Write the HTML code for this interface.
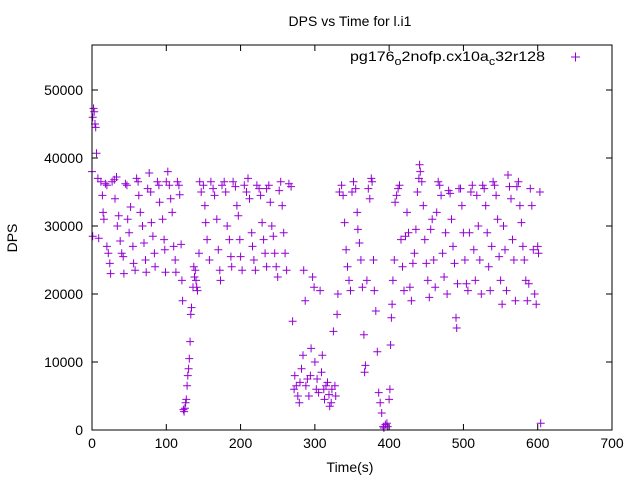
<!DOCTYPE html>
<html><head><meta charset="utf-8"><style>
html,body{margin:0;padding:0;background:#fff}
svg{display:block;font-family:"Liberation Sans",sans-serif}
</style></head><body>
<svg id="chart" width="640" height="480" viewBox="0 0 640 480" xmlns="http://www.w3.org/2000/svg">
<rect width="640" height="480" fill="#fff"/>
<text x="350" y="26" text-anchor="middle" font-size="14">DPS vs Time for l.i1</text>
<text transform="translate(17,238) rotate(-90)" text-anchor="middle" font-size="14">DPS</text>
<text x="350" y="472" text-anchor="middle" font-size="14">Time(s)</text>
<g id="axes"></g>
<g id="marks"></g>
<g>
<text x="350" y="61" font-size="14" textLength="195" lengthAdjust="spacingAndGlyphs">pg176<tspan font-size="11" dy="4">o</tspan><tspan dy="-4">2nofp.cx10a</tspan><tspan font-size="11" dy="4">c</tspan><tspan dy="-4">32r128</tspan></text>
<path d="M571,57h9M575.5,52.5v9" stroke="#9400d3" stroke-width="1"/>
</g>
<rect x="92" y="45" width="520" height="385" fill="none" stroke="#000" stroke-width="1"/>
</svg>
<script>
const xTicks=[0,100,200,300,400,500,600,700];
const yTicks=[0,10000,20000,30000,40000,50000];
const times=[0,1,2,3,4,5,6,1,9,8,12,14,15,16,18,20,20,22,24,25,27,30,31,33,34,36,38,40,42,43,45,47,48,50,52,55,56,58,60,62,63,65,68,70,72,73,75,77,79,80,82,84,85,88,90,91,95,97,98,99,100,102,104,106,108,110,112,113,115,117,118,120,121,122,
123,124,125,126,127,128,129,130,131,132,133,134,136,137,138,139,140,141,142,144,
145,147,150,152,153,155,158,160,163,165,168,170,172,173,175,178,180,182,185,187,188,190,193,195,197,199,200,202,205,208,210,212,215,216,218,220,222,225,227,229,231,233,235,
235,238,240,242,244,246,248,250,252,254,256,258,260,262,265,268,
270,272,273,275,277,279,280,282,284,285,287,288,290,292,294,295,297,299,300,302,303,305,307,309,310,312,313,315,317,319,320,322,323,325,327,328,330,331,
333,336,338,340,342,344,346,348,350,352,355,357,358,360,362,364,366,367,368,370,372,374,376,377,379,380,382,384,386,388,390,392,393,395,397,398,400,401,402,403,404,405,407,408,410,412,414,416,418,420,422,424,426,428,430,432,434,436,438,440,441,442,444,446,448,450,452,454,456,458,460,462,464,466,468,470,472,474,476,478,480,482,484,486,488,490,491,492,494,496,498,500,502,504,506,508,510,512,514,516,518,520,522,524,526,528,530,532,534,536,538,540,542,544,546,548,550,552,554,556,558,560,562,564,566,568,570,572,574,576,578,580,582,584,586,588,590,592,594,596,598,600,601,603,604];
const dps=[38000,46000,47300,46800,45000,44500,40700,28500,28200,37000,36500,34500,32000,31000,36200,36000,27000,26000,24500,23000,36500,36800,34000,37200,30000,31500,27800,26000,25500,23000,36200,36000,31000,29000,32800,27000,24500,23500,37000,36500,34500,32000,30000,27500,25000,23200,35500,37800,35000,30500,28500,26000,24000,36500,36000,33500,31000,28000,26500,23200,36500,38000,36000,34000,32000,27000,25000,23200,36500,36000,34600,27300,22000,19000,
3000,2700,3200,4000,4500,6500,8000,9000,10500,13000,17000,18000,21000,24000,22500,23500,22000,21000,20500,26000,
36500,35000,36000,33000,30500,28000,25000,36500,35500,34500,31000,26500,23500,22000,36000,36500,35000,30000,28000,25500,24000,36500,35800,33000,31500,28000,25500,23500,36000,35000,37000,34000,29000,27000,25000,23500,36000,35500,34500,30500,28000,26000,24000,
35500,36000,33500,30000,28500,26000,24000,22500,35200,36500,33000,29000,26000,23500,36200,35800,
16000,6000,8000,6500,5000,4000,7000,9000,11000,23500,19000,6500,7500,5000,8000,12000,22500,21000,10000,6000,7500,5500,20500,8500,11000,6000,4500,6500,7000,5200,3500,4000,6000,14500,6500,5000,17000,20000,
35000,36000,34500,30500,26500,24000,22000,20500,35000,36500,35500,32000,29500,27500,25000,21000,14000,8500,9500,22000,35500,34000,37000,36500,25000,20500,17500,11500,5500,4000,2500,500,300,800,1000,500,4500,6000,12500,16500,18500,22000,25000,33500,34500,35500,36000,28000,24000,20500,28500,32000,29000,21000,19000,24500,26000,29500,35000,37000,39000,38000,36500,33000,28000,24500,22000,19500,29500,31000,25000,21000,32000,36500,36000,34500,26000,22500,29000,20000,35200,34800,31000,27000,24500,16500,15000,21500,35500,35500,33000,29000,25000,21500,20500,29000,35000,36000,26500,22000,34500,30000,25000,20000,36000,35500,33000,29000,24000,20500,27000,36500,36000,34500,31000,25500,22000,18500,30000,26500,20500,37500,35800,34000,28000,25000,19000,35800,36500,33000,30500,27000,25000,22000,19000,21500,35500,33000,26500,20000,18500,27000,26000,35000,1000];
const X0=92,X1=612,Y0=430,Y1=45,XMAX=700,YMAX=56617;
function xs(t){return X0+(X1-X0)*t/XMAX;}
function ys(v){return Y0-(Y0-Y1)*v/YMAX;}
const NS="http://www.w3.org/2000/svg";
const axes=document.getElementById('axes');
xTicks.forEach(t=>{
  const x=xs(t);
  const p=document.createElementNS(NS,'path');
  p.setAttribute('d',`M${x},${Y0}v-6M${x},${Y1}v6`);
  p.setAttribute('stroke','#000');
  
  
  axes.appendChild(p);
  const tx=document.createElementNS(NS,'text');
  tx.setAttribute('x',x);tx.setAttribute('y',Y0+18);
  tx.setAttribute('text-anchor','middle');tx.setAttribute('font-size','14');
  tx.textContent=t;
  
  
  axes.appendChild(tx);
});
yTicks.forEach(v=>{
  const y=ys(v);
  const p=document.createElementNS(NS,'path');
  p.setAttribute('d',`M${X0},${y}h6M${X1},${y}h-6`);
  p.setAttribute('stroke','#000');
  
  
  axes.appendChild(p);
  const tx=document.createElementNS(NS,'text');
  tx.setAttribute('x',X0-9);tx.setAttribute('y',y+5);
  tx.setAttribute('text-anchor','end');tx.setAttribute('font-size','14');
  tx.textContent=v;
  
  
  axes.appendChild(tx);
});
const marks=document.getElementById('marks');
let d='';
for(let i=0;i<times.length;i++){
  const x=xs(times[i]),y=ys(dps[i]);
  d+=`M${(x-4).toFixed(1)},${y.toFixed(1)}h8M${x.toFixed(1)},${(y-4).toFixed(1)}v8`;
}
const pts=document.createElementNS(NS,'path');
pts.setAttribute('d',d);
pts.setAttribute('stroke','#9400d3');
pts.setAttribute('stroke-width','1');
pts.setAttribute('fill','none');


marks.appendChild(pts);
</script>
</body></html>
